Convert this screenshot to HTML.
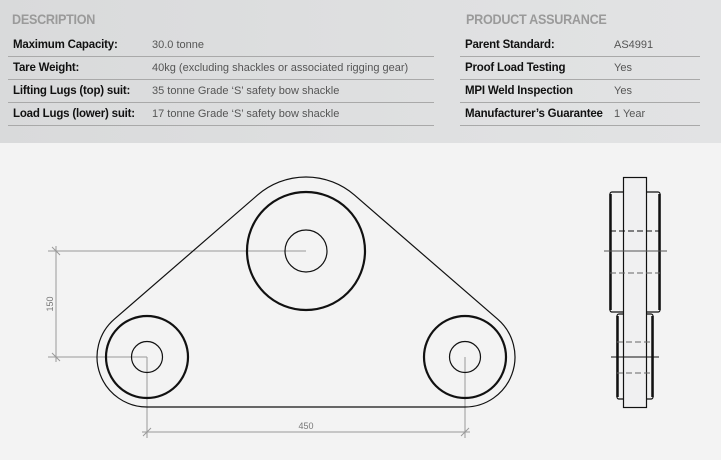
<!DOCTYPE html>
<html><head><style>
body{margin:0;width:721px;height:460px;overflow:hidden;background:#f3f3f3;font-family:"Liberation Sans",sans-serif}
.top{position:absolute;left:0;top:0;width:721px;height:143px;background:linear-gradient(90deg,#d9dadb,#dfe0e1 60%,#e2e3e4)}
.h{position:absolute;top:11px;font-size:14px;font-weight:bold;color:#9a9a9a;letter-spacing:-0.3px;transform:scaleX(0.9);transform-origin:left}
.r{position:absolute;height:22px;border-bottom:1px solid #a9a9a9;font-size:11.5px;line-height:23px;color:#111}
.r b{position:absolute;left:5px;letter-spacing:-0.2px;white-space:nowrap}
.r span{position:absolute;color:#555;font-size:11px;white-space:nowrap}
</style></head><body>
<div class="top">
<div class="h" style="left:12px">DESCRIPTION</div>
<div class="h" style="left:466px">PRODUCT ASSURANCE</div>
<div class="r" style="left:8px;top:34px;width:426px"><b>Maximum Capacity:</b><span style="left:144px">30.0 tonne</span></div>
<div class="r" style="left:8px;top:57px;width:426px"><b>Tare Weight:</b><span style="left:144px">40kg (excluding shackles or associated rigging gear)</span></div>
<div class="r" style="left:8px;top:80px;width:426px"><b>Lifting Lugs (top) suit:</b><span style="left:144px">35 tonne Grade ‘S’ safety bow shackle</span></div>
<div class="r" style="left:8px;top:103px;width:426px"><b>Load Lugs (lower) suit:</b><span style="left:144px">17 tonne Grade ‘S’ safety bow shackle</span></div>
<div class="r" style="left:460px;top:34px;width:240px"><b>Parent Standard:</b><span style="left:154px">AS4991</span></div>
<div class="r" style="left:460px;top:57px;width:240px"><b>Proof Load Testing</b><span style="left:154px">Yes</span></div>
<div class="r" style="left:460px;top:80px;width:240px"><b>MPI Weld Inspection</b><span style="left:154px">Yes</span></div>
<div class="r" style="left:460px;top:103px;width:240px"><b>Manufacturer’s Guarantee</b><span style="left:154px">1 Year</span></div>
</div>
<svg width="721" height="460" style="position:absolute;left:0;top:0">
<g stroke="#999" stroke-width="1" fill="none">
<line x1="48" y1="251" x2="306" y2="251"/><line x1="48" y1="357" x2="147" y2="357"/>
<line x1="56" y1="246" x2="56" y2="362"/>
<line x1="52" y1="247" x2="60" y2="255"/><line x1="52" y1="353" x2="60" y2="361"/>
<line x1="147" y1="357" x2="147" y2="438"/><line x1="465" y1="357" x2="465" y2="438"/>
<line x1="142" y1="432" x2="470" y2="432"/>
<line x1="143" y1="436" x2="151" y2="428"/><line x1="461" y1="436" x2="469" y2="428"/>
</g>
<text x="0" y="0" transform="translate(53,304) rotate(-90)" text-anchor="middle" font-size="9" fill="#777" font-family="Liberation Sans Narrow,Liberation Sans,sans-serif">150</text>
<text x="306" y="429" text-anchor="middle" font-size="9" fill="#777" font-family="Liberation Sans Narrow,Liberation Sans,sans-serif">450</text>
<g stroke="#111" fill="none">
<path d="M147 407 L465 407 A50 50 0 0 0 497.7 319.2 L354.5 195.1 A74 74 0 0 0 257.5 195.1 L114.3 319.2 A50 50 0 0 0 147 407 Z" stroke-width="1.2"/>
<circle cx="306" cy="251" r="59" stroke-width="2.2"/><circle cx="306" cy="251" r="21" stroke-width="1.2"/>
<circle cx="147" cy="357" r="41" stroke-width="2.2"/><circle cx="147" cy="357" r="15.5" stroke-width="1.2"/>
<circle cx="465" cy="357" r="41" stroke-width="2.2"/><circle cx="465" cy="357" r="15.5" stroke-width="1.2"/>
<rect x="610" y="192" width="50" height="120" rx="2" stroke-width="1.2"/>
<line x1="610.5" y1="194" x2="610.5" y2="310" stroke-width="2.5"/><line x1="659.5" y1="194" x2="659.5" y2="310" stroke-width="2.5"/>
<rect x="617" y="314" width="36" height="85" rx="2" stroke-width="1.2"/>
<line x1="617.5" y1="316" x2="617.5" y2="397" stroke-width="2.5"/><line x1="652.5" y1="316" x2="652.5" y2="397" stroke-width="2.5"/>
<rect x="623.5" y="177.5" width="23" height="230" fill="#f0f0f1" stroke-width="1.2"/>
<g stroke-dasharray="6,3" stroke-width="1.1"><line x1="610" y1="231" x2="660" y2="231"/><line x1="610" y1="273" x2="660" y2="273" stroke="#666"/>
<line x1="617" y1="342" x2="653" y2="342" stroke="#666"/><line x1="617" y1="373" x2="653" y2="373" stroke="#666"/></g>
<line x1="604" y1="251" x2="667" y2="251" stroke="#555"/><line x1="611" y1="357" x2="659" y2="357"/>
</g>
</svg>
</body></html>
